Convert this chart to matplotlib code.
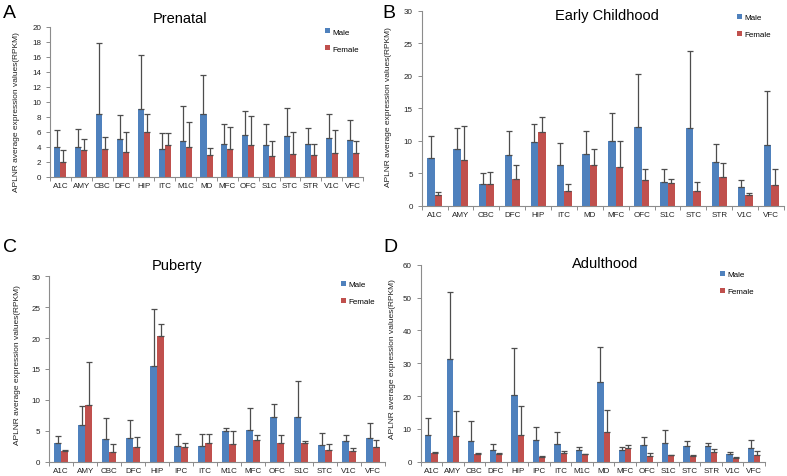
import matplotlib
matplotlib.use("Agg")
import matplotlib.pyplot as plt
import numpy as np
from matplotlib.patches import Patch

plt.rcParams['font.family'] = ['Liberation Sans', 'DejaVu Sans']

# ---------------- data ----------------
cats_A = ["A1C", "AMY", "CBC", "DFC", "HIP", "ITC", "M1C", "MD", "MFC", "OFC", "S1C", "STC", "STR", "V1C", "VFC"]
male_A = [4.0, 3.9, 8.4, 5.0, 9.0, 3.7, 4.8, 8.3, 4.4, 5.6, 4.2, 5.4, 4.4, 5.1, 4.9]
male_A_top = [6.2, 6.3, 17.8, 8.2, 16.2, 5.8, 9.4, 13.6, 7.0, 8.7, 7.0, 9.2, 6.5, 8.3, 7.6]
female_A = [1.9, 3.6, 3.7, 3.3, 6.0, 4.2, 3.9, 2.9, 3.7, 4.2, 2.8, 3.0, 2.9, 3.2, 3.1]
female_A_top = [3.6, 5.0, 5.3, 6.0, 8.3, 5.8, 7.3, 3.8, 6.6, 8.1, 4.8, 6.0, 4.3, 6.2, 4.8]

cats_B = ["A1C", "AMY", "CBC", "DFC", "HIP", "ITC", "MD", "MFC", "OFC", "S1C", "STC", "STR", "V1C", "VFC"]
male_B = [7.4, 8.8, 3.4, 7.8, 9.8, 6.3, 8.0, 9.9, 12.1, 3.7, 12.0, 6.7, 2.9, 9.3]
male_B_top = [10.7, 11.9, 5.1, 11.5, 12.6, 9.7, 11.5, 14.2, 20.3, 5.7, 23.8, 9.5, 4.0, 17.7]
female_B = [1.6, 7.0, 3.3, 4.1, 11.3, 2.2, 6.2, 6.0, 4.0, 3.5, 2.2, 4.4, 1.7, 3.2]
female_B_top = [2.1, 12.2, 5.2, 6.3, 13.6, 3.4, 8.7, 10.0, 5.6, 4.1, 3.6, 6.5, 1.9, 5.6]

cats_C = ["A1C", "AMY", "CBC", "DFC", "HIP", "IPC", "ITC", "M1C", "MFC", "OFC", "S1C", "STC", "V1C", "VFC"]
male_C = [3.1, 6.0, 3.7, 3.9, 15.5, 2.6, 2.6, 5.0, 5.2, 7.2, 7.2, 2.7, 3.3, 3.8]
male_C_top = [4.2, 9.0, 7.1, 6.8, 24.7, 4.5, 4.5, 5.5, 8.7, 9.3, 13.1, 4.7, 4.3, 6.3]
female_C = [1.8, 9.2, 1.6, 2.3, 20.4, 2.3, 3.0, 2.9, 3.5, 3.0, 3.0, 1.9, 1.8, 2.4]
female_C_top = [1.9, 16.2, 2.8, 4.0, 22.3, 3.0, 4.5, 5.0, 4.3, 4.3, 3.4, 2.9, 2.2, 3.5]

cats_D = ["A1C", "AMY", "CBC", "DFC", "HIP", "IPC", "ITC", "M1C", "MD", "MFC", "OFC", "S1C", "STC", "STR", "V1C", "VFC"]
male_D = [8.1, 31.4, 6.3, 3.7, 20.4, 6.6, 5.5, 3.7, 24.4, 3.6, 5.0, 5.8, 4.8, 4.8, 2.4, 4.3]
male_D_top = [13.3, 51.8, 12.4, 5.5, 34.7, 10.6, 9.0, 4.5, 35.0, 4.6, 7.6, 9.8, 6.3, 5.7, 3.1, 6.7]
female_D = [2.8, 7.7, 2.4, 2.2, 8.1, 1.3, 2.5, 2.3, 8.9, 4.3, 1.8, 2.0, 1.7, 3.0, 1.0, 1.9]
female_D_top = [3.1, 15.3, 2.6, 2.6, 16.9, 1.6, 3.3, 2.4, 15.6, 5.0, 2.6, 2.0, 2.0, 3.8, 1.4, 3.2]

titles = ["Prenatal", "Early Childhood", "Puberty", "Adulthood"]
letters = ["A", "B", "C", "D"]
ylims = [(0, 20, 2), (0, 30, 5), (0, 30, 5), (0, 60, 10)]

BLUE = "#4F81BD"
RED = "#C0504D"
ERR = "#4d4d4d"
AXC = "#8c8c8c"

W, H = 787, 477
fig = plt.figure(figsize=(W / 100, H / 100), dpi=100)

def px_axes(l, r, t, b):
    return fig.add_axes([l / W, (H - b) / H, (r - l) / W, (b - t) / H])

boxes = [(50, 363, 27.7, 177.7), (421.7, 784, 11.7, 206.7),
         (49.3, 385, 277.3, 462.7), (420.7, 765, 265.7, 462.7)]
ylab_xy = [(-0.095, 0.44), (-0.081, 0.51), (-0.085, 0.527), (-0.072, 0.527)]
leg_anchor = [(0.88, 0.99), (0.87, 0.985), (0.87, 0.975), (0.87, 0.97)]
title_y = [19, 16, 266, 264]
letter_pos = [(3, 14), (382, 14), (3, 247), (383, 247)]

data = [
    (cats_A, male_A, male_A_top, female_A, female_A_top),
    (cats_B, male_B, male_B_top, female_B, female_B_top),
    (cats_C, male_C, male_C_top, female_C, female_C_top),
    (cats_D, male_D, male_D_top, female_D, female_D_top),
]

for i, (cats, m, mt, f, ft) in enumerate(data):
    l, r, t, b = boxes[i]
    ax = px_axes(l, r, t, b)
    n = len(cats)
    x = np.arange(n)
    bw = 0.29
    m = np.array(m); mt = np.array(mt); f = np.array(f); ft = np.array(ft)
    ax.bar(x - bw / 2, m, bw, color=BLUE, edgecolor="none", zorder=2)
    ax.bar(x + bw / 2, f, bw, color=RED, edgecolor="none", zorder=2)
    ax.errorbar(x - bw / 2, m, yerr=[np.zeros(n), mt - m], fmt="none", ecolor=ERR,
                elinewidth=0.9, capsize=2, capthick=0.9, zorder=3)
    ax.errorbar(x + bw / 2, f, yerr=[np.zeros(n), ft - f], fmt="none", ecolor=ERR,
                elinewidth=0.9, capsize=2, capthick=0.9, zorder=3)
    y0, y1, st = ylims[i]
    ax.set_ylim(y0, y1)
    ax.set_yticks(np.arange(y0, y1 + 0.01, st))
    ax.set_xlim(-0.5, n - 0.5)
    ax.set_xticks(x)
    ax.set_xticklabels(cats)
    ax.set_xticks(np.arange(-0.5, n, 1.0), minor=True)
    ax.tick_params(axis="x", which="major", length=0, labelsize=5.8, pad=4, labelcolor="#222222")
    ax.tick_params(axis="x", which="minor", length=3, color=AXC, width=0.7)
    ax.tick_params(axis="y", length=3, color=AXC, width=0.7, labelsize=5.8, labelcolor="#222222")
    for s in ["top", "right"]:
        ax.spines[s].set_visible(False)
    for s in ["left", "bottom"]:
        ax.spines[s].set_color(AXC)
        ax.spines[s].set_linewidth(0.8)
    ax.set_ylabel("APLNR average expression values(RPKM)", fontsize=6.0, color="#222222")
    ax.yaxis.set_label_coords(*ylab_xy[i])
    handles = [Patch(facecolor=BLUE, label="Male"), Patch(facecolor=RED, label="Female")]
    ax.legend(handles=handles, loc="upper left", bbox_to_anchor=leg_anchor[i], frameon=False,
              fontsize=5.8, handlelength=0.6, handleheight=0.6, handletextpad=0.3,
              labelspacing=1.2, borderpad=0, borderaxespad=0)
    tx = [180, 607, 177, 605][i]
    fig.text(tx / W, 1 - title_y[i] / H, titles[i], fontsize=10.5, ha="center", va="center")
    fig.text(letter_pos[i][0] / W, 1 - letter_pos[i][1] / H, letters[i], fontsize=14,
             ha="left", va="center")

fig.savefig("out.png", dpi=100)
